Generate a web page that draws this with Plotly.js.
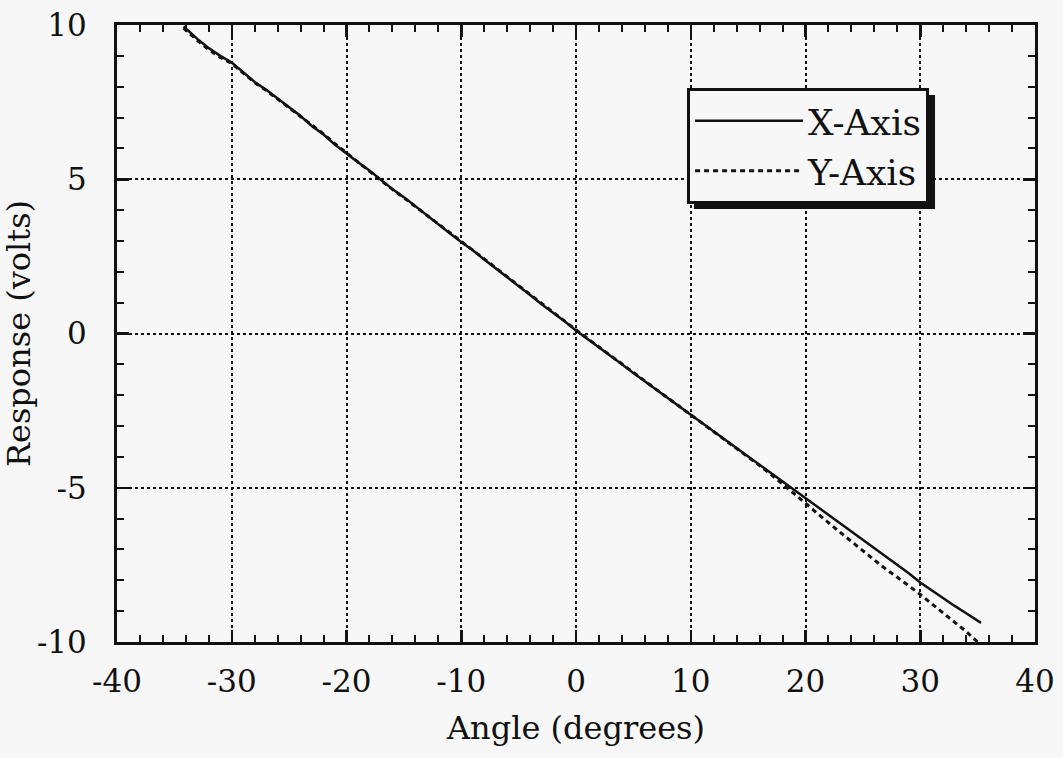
<!DOCTYPE html>
<html>
<head>
<meta charset="utf-8">
<script src="https://cdn.plot.ly/plotly-3.0.1.min.js"></script>
<style>html,body{margin:0;padding:0;background:#f7f7f7;}#chart{width:1063px;height:758px;}</style>
</head>
<body>
<div id="chart"></div>
<script>
// X-Axis response (solid)
const xAxisAngle = [-34.2,-33,-32,-31,-30,-29,-28,-27,-26,-25,-24,-23,-22,-21,-20,-19,-18,-17,-16,-15,-14,-13,-12,-11,-10,-9,-8,-7,-6,-5,-4,-3,-2,-1,0,1,2,3,4,5,6,7,8,9,10,11,12,13,14,15,16,17,18,19,20,21,22,23,24,25,26,27,28,29,30,31,32,33,34,35.3];
const xAxisResp = [9.95,9.55,9.25,9.0,8.78,8.45,8.15,7.9,7.62,7.34,7.05,6.72,6.45,6.12,5.82,5.55,5.28,4.98,4.68,4.42,4.12,3.83,3.55,3.25,2.97,2.70,2.40,2.12,1.82,1.55,1.25,0.95,0.68,0.40,0.10,-0.17,-0.45,-0.72,-1.0,-1.28,-1.55,-1.82,-2.1,-2.37,-2.64,-2.91,-3.18,-3.45,-3.72,-3.99,-4.26,-4.53,-4.8,-5.06,-5.32,-5.59,-5.86,-6.13,-6.40,-6.67,-6.94,-7.21,-7.48,-7.77,-8.07,-8.33,-8.58,-8.83,-9.07,-9.38];
// Y-Axis response (dashed)
const yAxisAngle = [-34.2,-33,-32,-31,-30,-29,-28,-27,-26,-25,-24,-23,-22,-21,-20,-19,-18,-17,-16,-15,-14,-13,-12,-11,-10,-9,-8,-7,-6,-5,-4,-3,-2,-1,0,1,2,3,4,5,6,7,8,9,10,11,12,13,14,15,16,17,18,19,20,21,22,23,24,25,26,27,28,29,30,31,32,33,34,35.0];
const yAxisResp = [9.9,9.5,9.2,8.95,8.75,8.45,8.13,7.88,7.6,7.32,7.05,6.75,6.47,6.15,5.85,5.55,5.27,4.96,4.67,4.4,4.12,3.85,3.57,3.27,2.99,2.72,2.42,2.13,1.84,1.56,1.27,0.97,0.69,0.41,0.12,-0.16,-0.44,-0.71,-0.99,-1.27,-1.54,-1.81,-2.09,-2.36,-2.63,-2.9,-3.17,-3.45,-3.72,-4.0,-4.28,-4.57,-4.87,-5.18,-5.5,-5.82,-6.14,-6.44,-6.74,-7.05,-7.36,-7.64,-7.9,-8.17,-8.46,-8.76,-9.06,-9.36,-9.66,-10.0];

const xTickVals = [-40, -30, -20, -10, 0, 10, 20, 30, 40];
const xTickText = ['-40', '-30', '-20', '-10', '0', '10', '20', '30', '40'];
const yTickVals = [-10, -5, 0, 5, 10];
const yTickText = ['-10', '-5', '0', '5', '10'];

const traces = [
  {x: xAxisAngle, y: xAxisResp, name: 'X-Axis', mode: 'lines', line: {color: '#111', width: 2.5}},
  {x: yAxisAngle, y: yAxisResp, name: 'Y-Axis', mode: 'lines', line: {color: '#111', width: 3, dash: '5px,4px'}}
];

const serif = 'DejaVu Serif, serif';
const axisCommon = {
  showline: true, linecolor: '#111', linewidth: 3, mirror: 'ticks',
  ticks: 'inside', ticklen: 12, tickwidth: 2.5, tickcolor: '#111',
  showgrid: true, gridcolor: '#111', gridwidth: 2, griddash: 'dot',
  zeroline: false, tickmode: 'array',
  tickfont: {family: serif, size: 31, color: '#111'}
};

const layout = {
  width: 1063, height: 758,
  paper_bgcolor: '#f7f7f7', plot_bgcolor: '#f7f7f7',
  margin: {l: 117, r: 28, t: 25, b: 116},
  showlegend: true,
  legend: {x: 0.621, y: 0.898, xanchor: 'left', yanchor: 'top', bgcolor: '#f7f7f7', bordercolor: '#111', borderwidth: 3,
           font: {family: serif, size: 36, color: '#111'}, itemwidth: 108, tracegroupgap: 0},
  xaxis: Object.assign({}, axisCommon, {range: [-40, 40], tickvals: xTickVals, ticktext: xTickText,
    minor: {dtick: 2, ticks: 'inside', ticklen: 7, tickwidth: 2, tickcolor: '#111', showgrid: false},
    ticklabelstandoff: 10,
    title: {text: 'Angle (degrees)', font: {family: serif, size: 32, color: '#111'}, standoff: 19}}),
  yaxis: Object.assign({}, axisCommon, {range: [-10, 10], tickvals: yTickVals, ticktext: yTickText,
    minor: {dtick: 1, ticks: 'inside', ticklen: 7, tickwidth: 2, tickcolor: '#111', showgrid: false},
    ticklabelstandoff: 21,
    title: {text: 'Response (volts)', font: {family: serif, size: 32, color: '#111'}, standoff: 8}}),
  shapes: [
    {type: 'rect', xref: 'paper', yref: 'paper', x0: 0.6285, x1: 0.8911, y0: 0.7018, y1: 0.8865,
     fillcolor: '#111', line: {width: 0}, layer: 'above'}
  ]
};

Plotly.newPlot('chart', traces, layout, {staticPlot: true});
</script>
</body>
</html>
